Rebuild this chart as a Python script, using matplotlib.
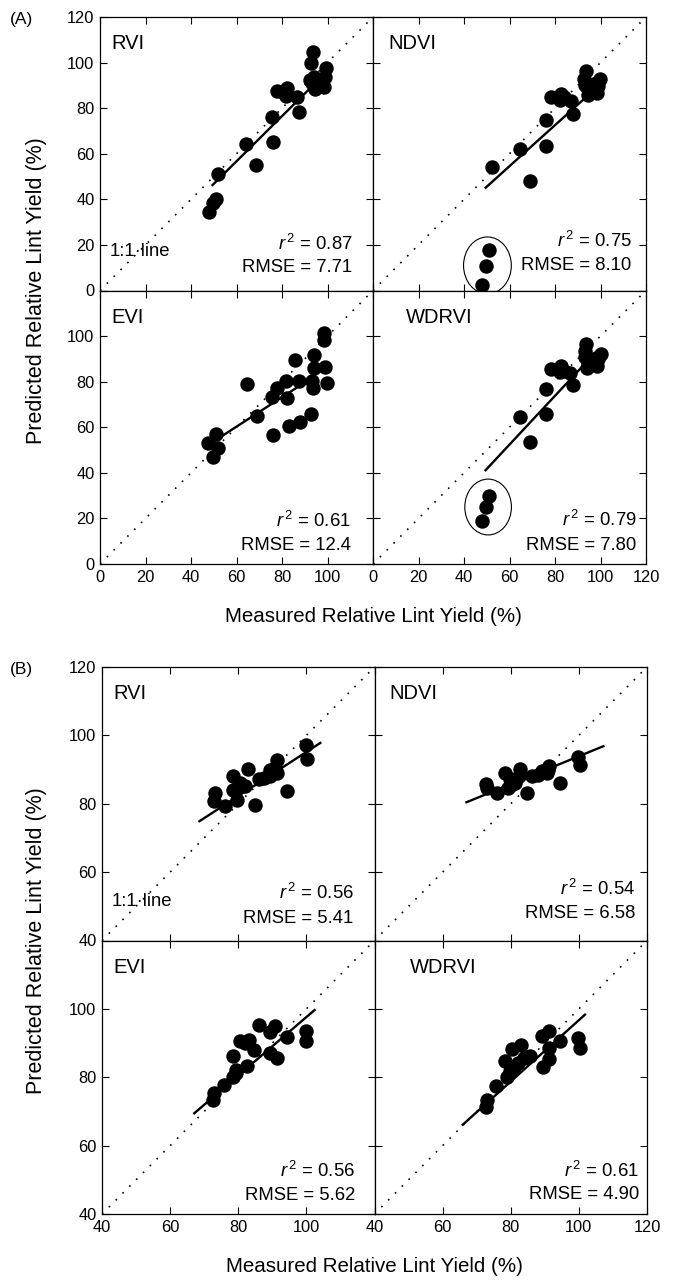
import matplotlib
matplotlib.use("Agg")
import matplotlib.pyplot as plt
from matplotlib.patches import Ellipse
import numpy as np

plt.rcParams["font.family"] = ["Liberation Sans", "DejaVu Sans"]
plt.rcParams["mathtext.fontset"] = "custom"
plt.rcParams["mathtext.rm"] = "Liberation Sans"
plt.rcParams["mathtext.it"] = "Liberation Sans:italic"

# ---------------- data: panel (A) ----------------
indices = ["RVI", "NDVI", "EVI", "WDRVI"]

a_rvi_x = [93.5, 92.8, 99.3, 99.0, 94.0, 92.5, 94.7, 98.3, 77.9, 82.3, 81.6, 86.4,
           87.4, 75.7, 76.0, 64.1, 68.7, 52.0, 51.0, 49.5, 47.7, 93.0, 81.0]
a_rvi_y = [104.7, 99.9, 97.8, 93.7, 93.7, 92.3, 88.6, 89.3, 87.4, 88.9, 85.3, 84.7,
           78.4, 76.2, 65.3, 64.1, 55.0, 51.1, 40.0, 38.2, 34.6, 91.0, 86.5]

a_ndvi_x = [93.7, 92.7, 99.6, 98.8, 94.5, 98.5, 94.5, 78.1, 82.8, 82.0, 86.9, 87.9,
            76.2, 76.2, 64.5, 68.9, 52.1, 50.9, 49.5, 47.7, 98.0, 93.0, 84.0]
a_ndvi_y = [96.2, 93.0, 92.6, 89.6, 88.2, 86.7, 85.7, 84.7, 86.4, 83.8, 83.2, 77.4,
            75.0, 63.4, 61.9, 48.2, 54.0, 17.8, 10.8, 2.5, 91.0, 90.0, 85.0]

a_evi_x = [98.6, 98.3, 85.9, 93.9, 94.2, 99.0, 99.8, 93.2, 93.5, 87.4, 81.6, 77.6,
           75.7, 82.3, 64.6, 69.0, 92.6, 87.8, 83.0, 76.0, 51.0, 47.4, 52.0, 49.5]
a_evi_y = [101.5, 98.1, 89.6, 91.7, 86.1, 86.4, 79.6, 80.3, 77.1, 80.3, 80.3, 77.3,
           73.4, 73.0, 78.8, 65.0, 65.7, 62.5, 60.6, 56.5, 57.2, 53.3, 51.1, 47.0]

a_wdrvi_x = [93.7, 93.0, 100.0, 98.8, 94.5, 98.5, 94.2, 78.1, 82.8, 82.0, 86.4, 87.9,
             76.2, 76.2, 64.5, 68.9, 50.9, 49.5, 47.7, 98.0, 93.0, 84.0]
a_wdrvi_y = [96.4, 93.4, 92.3, 89.8, 88.3, 86.9, 86.1, 85.4, 86.9, 84.4, 83.9, 78.5,
             76.6, 66.0, 64.7, 53.6, 29.9, 25.1, 18.7, 90.5, 91.0, 84.5]

# regression lines: x start, x end, slope, intercept
a_fits = {
    "RVI": [49.5, 96.0, 0.99, -2.7],
    "NDVI": [49.5, 96.0, 0.90, 0.55],
    "EVI": [50.3, 91.0, 0.646, 21.5],
    "WDRVI": [49.5, 92.0, 1.07, -11.8],
}
a_r2 = ["0.87", "0.75", "0.61", "0.79"]
a_rmse = ["7.71", "8.10", "12.4", "7.80"]

# outlier ellipses (centre x, centre y, width, height)
a_ellipses = {"NDVI": [50.3, 11.0, 21.0, 25.0], "WDRVI": [50.6, 25.0, 20.5, 24.5]}

# ---------------- data: panel (B) ----------------
b_rvi_x = [99.9, 100.2, 91.4, 90.9, 89.2, 91.4, 89.4, 82.8, 86.0, 78.4, 80.6, 78.6,
           73.2, 73.0, 76.2, 79.6, 85.0, 94.3, 82.1, 87.5, 90.3, 80.0]
b_rvi_y = [97.3, 93.1, 92.7, 90.5, 90.0, 89.0, 88.0, 90.2, 87.1, 88.0, 86.1, 83.9,
           83.0, 80.7, 79.3, 81.0, 79.5, 83.6, 85.1, 87.6, 89.2, 85.0]

b_ndvi_x = [99.8, 100.3, 91.3, 91.0, 89.1, 94.4, 82.7, 86.1, 78.3, 79.8, 82.5, 79.3,
            72.7, 72.9, 75.9, 84.7, 81.2, 90.5, 88.0, 80.0]
b_ndvi_y = [93.7, 91.4, 91.1, 90.0, 89.7, 86.1, 90.2, 88.0, 89.0, 87.3, 88.0, 84.6,
            85.9, 84.6, 83.2, 83.2, 86.1, 89.0, 88.5, 85.5]

b_evi_x = [86.0, 90.9, 89.4, 94.3, 100.0, 100.0, 80.6, 83.1, 84.7, 78.4, 89.4, 91.4,
           82.5, 79.4, 78.6, 75.7, 72.9, 72.7, 82.0, 79.3]
b_evi_y = [95.3, 95.1, 93.2, 91.9, 93.4, 90.5, 90.5, 91.0, 88.0, 86.3, 87.1, 85.6,
           83.2, 82.2, 80.2, 77.6, 75.4, 73.4, 90.0, 81.2]

b_wdrvi_x = [91.3, 89.1, 94.4, 99.8, 100.3, 91.1, 91.3, 89.5, 82.9, 80.5, 85.6, 78.2,
             82.1, 79.8, 78.8, 75.7, 73.1, 72.7, 84.0, 81.0]
b_wdrvi_y = [93.6, 92.1, 90.7, 91.5, 88.6, 88.6, 85.3, 82.9, 89.5, 88.2, 86.2, 84.8,
             84.3, 81.9, 80.0, 77.3, 73.4, 71.3, 85.5, 83.0]

b_fits = {
    "RVI": [68.6, 104.1, 0.645, 30.65],
    "NDVI": [67.0, 107.2, 0.408, 53.1],
    "EVI": [67.1, 102.4, 0.855, 12.1],
    "WDRVI": [65.9, 101.8, 0.897, 7.0],
}
b_r2 = ["0.56", "0.54", "0.56", "0.61"]
b_rmse = ["5.41", "6.58", "5.62", "4.90"]

a_points = {"RVI": (a_rvi_x, a_rvi_y), "NDVI": (a_ndvi_x, a_ndvi_y),
            "EVI": (a_evi_x, a_evi_y), "WDRVI": (a_wdrvi_x, a_wdrvi_y)}
b_points = {"RVI": (b_rvi_x, b_rvi_y), "NDVI": (b_ndvi_x, b_ndvi_y),
            "EVI": (b_evi_x, b_evi_y), "WDRVI": (b_wdrvi_x, b_wdrvi_y)}

# ---------------- layout ----------------
W, H = 678, 1286
fig = plt.figure(figsize=(W / 100, H / 100), dpi=100)

# label x (axes fraction), stats right edge, stats baselines
label_x = {"RVI": 0.04, "NDVI": 0.056, "EVI": 0.04, "WDRVI": 0.12}
stats_x_a = {"RVI": 0.925, "NDVI": 0.947, "EVI": 0.92, "WDRVI": 0.966}
stats_x_b = {"RVI": 0.923, "NDVI": 0.956, "EVI": 0.93, "WDRVI": 0.97}
stats_y_a = {"RVI": (0.147, 0.066), "NDVI": (0.159, 0.076),
             "EVI": (0.134, 0.051), "WDRVI": (0.14, 0.051)}
stats_y_b = {"RVI": (0.152, 0.063), "NDVI": (0.165, 0.083),
             "EVI": (0.135, 0.051), "WDRVI": (0.137, 0.055)}


def make_panel(left, right, top, bottom, lo, points, fits, r2, rmse,
               stats_x, stats_y, ellipses, tag, label_dx):
    w = (right - left) / 2
    h = (bottom - top) / 2
    ticks = np.arange(lo, 121, 20)
    axes = {}
    for k, name in enumerate(indices):
        row, col = divmod(k, 2)
        x0 = left + col * w
        y0 = top + (row + 1) * h
        ax = fig.add_axes([x0 / W, 1 - y0 / H, w / W, h / H])
        ax.set_xlim(lo, 120)
        ax.set_ylim(lo, 120)
        ax.set_xticks(ticks)
        ax.set_yticks(ticks)
        ax.tick_params(direction="in", top=True, right=True, length=5,
                       width=0.8, labelsize=11.8, pad=4)
        for s in ax.spines.values():
            s.set_linewidth(0.9)

        if row == 0:
            ax.tick_params(labelbottom=False)
            ax.set_yticklabels([f"{t}" for t in ticks])
        else:
            ax.set_yticklabels([f"{t}" for t in ticks[:-1]] + [""])
        if col == 1:
            ax.tick_params(labelleft=False)
        if row == 1 and col == 0:
            ax.set_xticklabels([f"{t}" for t in ticks[:-1]] + [""])

        # 1:1 line
        ax.plot([lo, 120], [lo, 120], color="black", lw=1.2,
                linestyle=(0, (1, 4.8)))

        xs, ys = points[name]
        ax.plot(xs, ys, "o", color="black", markersize=9.4, zorder=3)

        fx0, fx1, slope, icpt = fits[name]
        fx = np.array([fx0, fx1])
        ax.plot(fx, slope * fx + icpt, color="black", lw=1.7, zorder=4)

        ax.text(label_x[name] + (label_dx if name == "WDRVI" else 0), 0.937, name,
                transform=ax.transAxes, fontsize=14.5, va="top", ha="left")
        ax.text(stats_x[name], stats_y[name][0],
                r"$r^{\,2}$" + f" = {r2[k]}", transform=ax.transAxes,
                fontsize=13.3, ha="right", va="baseline")
        ax.text(stats_x[name], stats_y[name][1], f"RMSE = {rmse[k]}",
                transform=ax.transAxes, fontsize=13.3, ha="right", va="baseline")
        if name == "RVI":
            ax.text(0.037, 0.127, "1:1\u00b7line",
                    transform=ax.transAxes, fontsize=13.3, ha="left", va="baseline")

        if name in ellipses:
            cx, cy, ew, eh = ellipses[name]
            ax.add_patch(Ellipse((cx, cy), ew, eh, fill=False, lw=0.8,
                                 edgecolor="black", clip_on=False, zorder=5))
        axes[name] = ax

    fig.text(10 / W, 1 - (top - 5) / H, tag, fontsize=12.5, va="top", ha="left")
    fig.text(37 / W, 1 - ((top + bottom) / 2) / H,
             "Predicted Relative Lint Yield (%)", rotation=90,
             fontsize=15.5, ha="center", va="center")
    fig.text(((left + right) / 2) / W, 1 - (bottom + 53) / H,
             "Measured Relative Lint Yield (%)", fontsize=14.8,
             ha="center", va="center")
    return axes


make_panel(100, 646, 17, 564, 0, a_points, a_fits, a_r2, a_rmse,
           stats_x_a, stats_y_a, a_ellipses, "(A)", 0.0)
make_panel(102, 647, 667, 1214, 40, b_points, b_fits, b_r2, b_rmse,
           stats_x_b, stats_y_b, {}, "(B)", 0.009)

fig.savefig("out.png", dpi=100)
